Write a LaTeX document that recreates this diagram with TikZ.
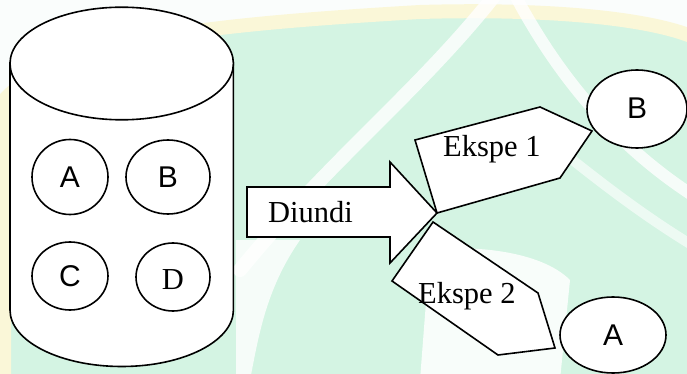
\documentclass[tikz,border=0pt]{standalone}
\usepackage{fontspec}
\usetikzlibrary{shapes.geometric}
\newfontfamily\serifface{Liberation Serif}
\newfontfamily\sansface{Liberation Sans}
\definecolor{mint}{RGB}{212,244,227}
\definecolor{paleyellow}{RGB}{250,247,216}
\tikzset{
  outline/.style={draw=black, line width=1.6pt, fill=white, line join=miter},
  ball/.style={ellipse, draw=black, line width=1.6pt, fill=white, inner sep=0pt},
  sanslabel/.style={font=\sansface\fontsize{30}{34}\selectfont},
  seriflabel/.style={font=\serifface\fontsize{30.5}{34}\selectfont},
}
\begin{document}
\begin{tikzpicture}[x=1pt,y=-1pt]
\useasboundingbox (0,0) rectangle (687,374);
% faint watermark behind the drawing
\begin{scope}
  \clip (0,0) rectangle (687,374);
  \fill[mint] (0,0) rectangle (687,374);
  % pale area above the ring
  \fill[white, opacity=0.9] (-5,-5) -- (-5,110) .. controls (60,45) and (200,30) .. (420,17) .. controls (560,12) and (660,24) .. (700,44) -- (700,-5) -- cycle;
  \draw[paleyellow, line width=14pt] (4,380) -- (4,100) .. controls (60,40) and (200,25) .. (420,12) .. controls (560,8) and (660,20) .. (700,40);
  % light streaks
  \draw[white, line width=14pt, opacity=0.8, line cap=round] (495,-5) .. controls (420,90) and (330,160) .. (240,270);
  \draw[white, line width=12pt, opacity=0.8, line cap=round] (515,-5) .. controls (560,80) and (620,150) .. (700,200);
  \draw[white, line width=10pt, opacity=0.6, line cap=round] (560,150) .. controls (610,190) and (650,220) .. (700,250);
  \fill[white, opacity=0.85] (430,250) .. controls (470,245) and (540,250) .. (570,280) -- (560,380) -- (420,380) -- cycle;
  \fill[white, opacity=0.8] (236,240) -- (300,240) .. controls (265,290) and (258,340) .. (250,380) -- (236,380) -- cycle;
\end{scope}

% cylinder holding the four balls
\coordinate (cylTL) at (10,63);
\coordinate (cylBL) at (10,310);
\filldraw[outline] (cylTL) -- (cylBL) arc[start angle=180, end angle=360, x radius=111.7pt, y radius=56.5pt] -- (233.4,63) -- cycle;
\filldraw[outline] (121.7,63.5) ellipse [x radius=111.7pt, y radius=56.3pt];

\node[ball, minimum width=76pt, minimum height=75pt] (ballA) at (70,177) {};
\node[sanslabel] at (ballA) {A};
\node[ball, minimum width=84pt, minimum height=74pt] (ballB) at (168,177) {};
\node[sanslabel] at (ballB) {B};
\node[ball, minimum width=76pt, minimum height=68pt] (ballC) at (70,276) {};
\node[sanslabel] at (ballC) {C};
\node[ball, minimum width=74pt, minimum height=68pt] (ballD) at (173,277) {};
\node[seriflabel] at ([yshift=-3pt]ballD) {D};

% block arrow "Diundi"
\coordinate (drawTip) at (437,213);
\filldraw[outline] (247,187) -- (390,187) -- (390,162) -- (drawTip) -- (390,263) -- (390,237) -- (247,237) -- cycle;
\node[seriflabel, anchor=base west, inner sep=0pt] (diundi) at (268,222) {Diundi};

% first draw
\filldraw[outline] (415,140) -- (540,107) -- (592,131) -- (560,178) -- (437,213) -- cycle;
\node[seriflabel, anchor=base west, inner sep=0pt] (ekspe1) at (443,157) {Ekspe 1};

% second draw
\filldraw[outline] (433,222) -- (538,293) -- (555,348) -- (498,355) -- (392,281) -- cycle;
\node[seriflabel, anchor=base west, inner sep=0pt] (ekspe2) at (418,303) {Ekspe 2};

% outcomes
\node[ball, minimum width=100pt, minimum height=78pt] (outB) at (637,109) {};
\node[sanslabel] at ([yshift=1pt]outB) {B};
\node[ball, minimum width=106pt, minimum height=76pt] (outA) at (613,335) {};
\node[sanslabel] at (outA) {A};
\end{tikzpicture}
\end{document}
